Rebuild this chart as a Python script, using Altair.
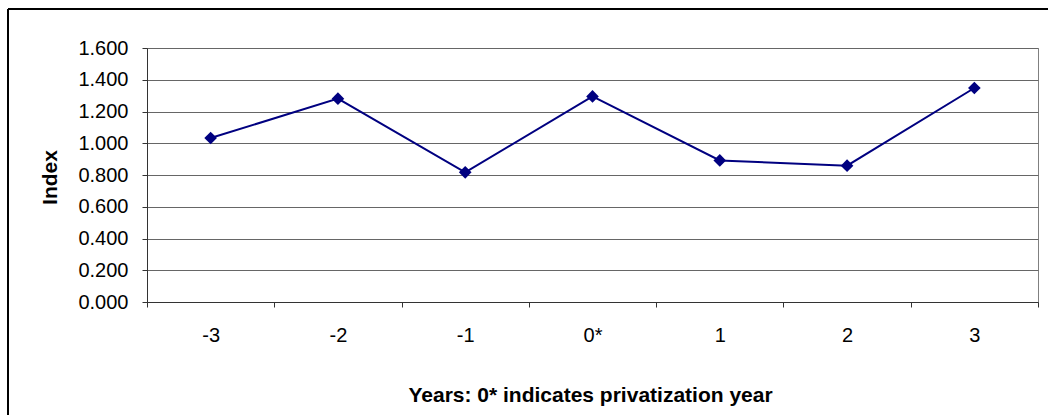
import altair as alt
import pandas as pd

years = ["-3", "-2", "-1", "0*", "1", "2", "3"]
index_values = [1.033, 1.281, 0.817, 1.295, 0.892, 0.859, 1.348]
y_ticks = [0.0, 0.2, 0.4, 0.6, 0.8, 1.0, 1.2, 1.4, 1.6]

df = pd.DataFrame({"year": years, "index": index_values})
frame_df = pd.DataFrame({"k": [0]})

W, H = 891, 254
FONT = "Liberation Sans"

x_enc = alt.X(
    "year:O",
    sort=years,
    scale=alt.Scale(type="band", paddingInner=0, paddingOuter=0),
    axis=alt.Axis(
        title="Years: 0* indicates privatization year",
        labelAngle=0,
        tickBand="extent",
        tickSize=5,
        tickColor="#333333",
        domainColor="#333333",
        labelFont=FONT,
        labelFontSize=20,
        labelColor="black",
        labelBaseline="alphabetic",
        labelPadding=34,
        titleFont=FONT,
        titleFontSize=21,
        titleFontWeight="bold",
        titleColor="black",
        titleX=443,
        titleY=99.5,
        titleBaseline="alphabetic",
        titleAlign="center",
        grid=False,
    ),
)

y_enc = alt.Y(
    "index:Q",
    scale=alt.Scale(domain=[0, 1.6], nice=False, zero=True),
    axis=alt.Axis(
        title="Index",
        values=y_ticks,
        format=".3f",
        tickSize=5,
        tickColor="#333333",
        domainColor="#333333",
        labelFont=FONT,
        labelFontSize=20,
        labelColor="black",
        labelPadding=14,
        grid=True,
        gridColor="#666666",
        gridWidth=1,
        titleFont=FONT,
        titleFontSize=21,
        titleFontWeight="bold",
        titleColor="black",
        titleAngle=270,
        titleX=-91,
        titleY=129,
        titleBaseline="alphabetic",
        titleAlign="center",
    ),
)

base = alt.Chart(df)

line = base.mark_line(color="#000080", strokeWidth=2).encode(x=x_enc, y=y_enc)
points = base.mark_point(
    shape="diamond", filled=True, size=160, color="#000080", opacity=1
).encode(x=x_enc, y=y_enc)

frame_top = alt.Chart(frame_df).mark_rule(color="black", strokeWidth=2).encode(
    x=alt.value(-139), x2=alt.value(W + 200), y=alt.value(-39)
)
frame_left = alt.Chart(frame_df).mark_rule(color="black", strokeWidth=2).encode(
    x=alt.value(-139), y=alt.value(-39), y2=alt.value(H + 200)
)

chart = (
    alt.layer(frame_top, frame_left, line, points)
    .properties(
        width=W,
        height=H,
        autosize=alt.AutoSizeParams(type="none"),
        padding={"left": 147, "top": 48, "right": 10, "bottom": 113},
        background="white",
    )
    .configure_view(stroke="#808080", strokeWidth=1)
)

chart.save("out.html", embed_options={"renderer": "svg", "actions": False})
